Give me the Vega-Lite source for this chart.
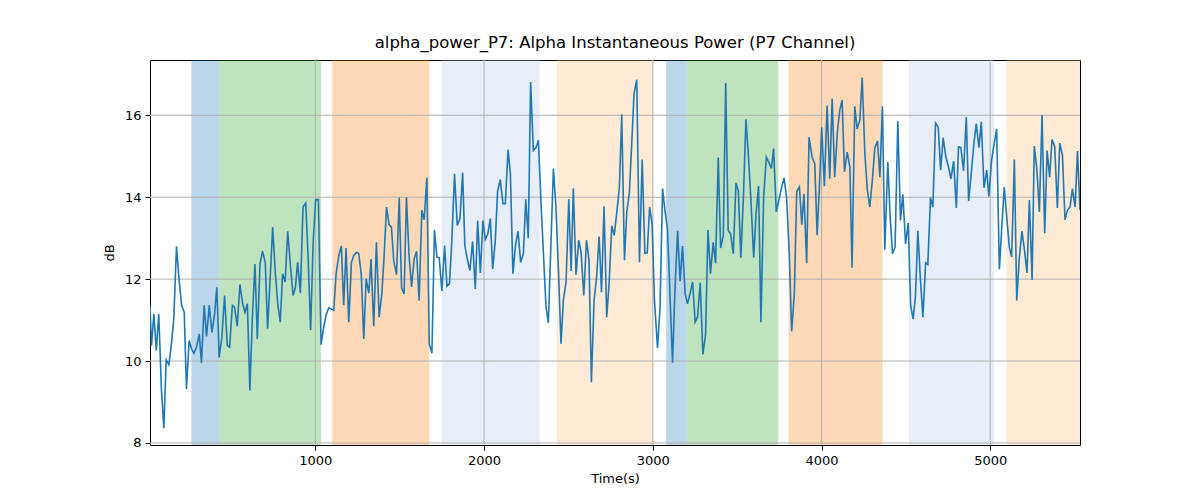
{
  "$schema": "https://vega.github.io/schema/vega-lite/v6.json",
  "width": 930,
  "height": 385,
  "autosize": {"type": "none"},
  "padding": {"left": 150, "top": 60, "right": 120, "bottom": 55},
  "background": "white",
  "config": {
    "font": "DejaVu Sans",
    "view": {"stroke": "black", "strokeWidth": 1},
    "axis": {
      "labelFont": "DejaVu Sans",
      "titleFont": "DejaVu Sans",
      "labelFontSize": 13,
      "titleFontSize": 13,
      "titleFontWeight": "normal",
      "labelColor": "black",
      "titleColor": "black",
      "tickColor": "black",
      "tickSize": 5,
      "labelPadding": 4,
      "domain": false,
      "grid": false
    },
    "title": {"font": "DejaVu Sans", "fontSize": 16.5, "fontWeight": "normal", "color": "black", "offset": 8}
  },
  "title": "alpha_power_P7: Alpha Instantaneous Power (P7 Channel)",
  "datasets": {
    "spans": [
      {"start": 265, "end": 431, "kind": "a"},
      {"start": 431, "end": 1033, "kind": "b"},
      {"start": 1100, "end": 1676, "kind": "c"},
      {"start": 1748, "end": 2330, "kind": "d"},
      {"start": 2431, "end": 3005, "kind": "e"},
      {"start": 3079, "end": 3201, "kind": "a"},
      {"start": 3201, "end": 3744, "kind": "b"},
      {"start": 3805, "end": 4361, "kind": "c"},
      {"start": 4518, "end": 5023, "kind": "d"},
      {"start": 5097, "end": 5532, "kind": "e"}
    ],
    "xgrid": [{"gx": 1000}, {"gx": 2000}, {"gx": 3000}, {"gx": 4000}, {"gx": 5000}],
    "ygrid": [{"gy": 8}, {"gy": 10}, {"gy": 12}, {"gy": 14}, {"gy": 16}],
    "signal": [
      {"t": 20, "v": 11.35}, {"t": 29, "v": 10.38}, {"t": 43, "v": 11.15}, {"t": 57, "v": 10.26}, {"t": 72, "v": 11.15},
      {"t": 88, "v": 9.28}, {"t": 102, "v": 8.36}, {"t": 116, "v": 10.03}, {"t": 132, "v": 9.91}, {"t": 147, "v": 10.42},
      {"t": 161, "v": 11.03}, {"t": 177, "v": 12.8}, {"t": 191, "v": 12.05}, {"t": 207, "v": 11.36}, {"t": 223, "v": 11.19},
      {"t": 236, "v": 9.32}, {"t": 252, "v": 10.5}, {"t": 266, "v": 10.3}, {"t": 280, "v": 10.19}, {"t": 296, "v": 10.34},
      {"t": 312, "v": 10.66}, {"t": 325, "v": 9.95}, {"t": 341, "v": 11.36}, {"t": 355, "v": 10.6}, {"t": 371, "v": 11.36},
      {"t": 387, "v": 10.7}, {"t": 403, "v": 11.15}, {"t": 416, "v": 11.8}, {"t": 430, "v": 10.09}, {"t": 446, "v": 10.58},
      {"t": 462, "v": 11.6}, {"t": 478, "v": 10.38}, {"t": 492, "v": 10.34}, {"t": 508, "v": 11.36}, {"t": 521, "v": 11.32},
      {"t": 537, "v": 10.85}, {"t": 553, "v": 11.87}, {"t": 569, "v": 11.4}, {"t": 583, "v": 11.19}, {"t": 597, "v": 11.4},
      {"t": 612, "v": 9.28}, {"t": 626, "v": 10.99}, {"t": 642, "v": 12.37}, {"t": 656, "v": 10.54}, {"t": 672, "v": 12.37},
      {"t": 687, "v": 12.68}, {"t": 703, "v": 12.41}, {"t": 717, "v": 10.79}, {"t": 732, "v": 12.0}, {"t": 747, "v": 13.27},
      {"t": 762, "v": 12.2}, {"t": 777, "v": 11.4}, {"t": 792, "v": 10.95}, {"t": 806, "v": 12.13}, {"t": 821, "v": 11.93},
      {"t": 836, "v": 13.17}, {"t": 852, "v": 12.35}, {"t": 868, "v": 11.6}, {"t": 882, "v": 11.8}, {"t": 895, "v": 12.41},
      {"t": 911, "v": 11.66}, {"t": 927, "v": 13.76}, {"t": 943, "v": 13.86}, {"t": 957, "v": 12.55}, {"t": 972, "v": 10.76},
      {"t": 987, "v": 12.9}, {"t": 1002, "v": 13.94}, {"t": 1018, "v": 13.94}, {"t": 1034, "v": 10.4}, {"t": 1048, "v": 10.79},
      {"t": 1063, "v": 11.11}, {"t": 1079, "v": 11.3}, {"t": 1094, "v": 11.27}, {"t": 1109, "v": 11.24}, {"t": 1123, "v": 12.13},
      {"t": 1139, "v": 12.58}, {"t": 1154, "v": 12.81}, {"t": 1168, "v": 11.36}, {"t": 1182, "v": 12.76}, {"t": 1198, "v": 10.95},
      {"t": 1214, "v": 12.41}, {"t": 1228, "v": 12.58}, {"t": 1243, "v": 12.65}, {"t": 1257, "v": 12.63}, {"t": 1272, "v": 12.13},
      {"t": 1287, "v": 10.54}, {"t": 1301, "v": 12.01}, {"t": 1317, "v": 11.66}, {"t": 1330, "v": 12.49}, {"t": 1346, "v": 10.85},
      {"t": 1362, "v": 12.9}, {"t": 1378, "v": 11.07}, {"t": 1394, "v": 11.64}, {"t": 1406, "v": 12.45}, {"t": 1422, "v": 13.76},
      {"t": 1437, "v": 13.33}, {"t": 1451, "v": 13.27}, {"t": 1465, "v": 12.43}, {"t": 1481, "v": 12.11}, {"t": 1497, "v": 13.99},
      {"t": 1511, "v": 11.79}, {"t": 1526, "v": 11.64}, {"t": 1540, "v": 14.0}, {"t": 1555, "v": 12.6}, {"t": 1570, "v": 11.81},
      {"t": 1586, "v": 12.5}, {"t": 1600, "v": 12.68}, {"t": 1615, "v": 11.47}, {"t": 1631, "v": 13.68}, {"t": 1645, "v": 13.45},
      {"t": 1661, "v": 14.48}, {"t": 1675, "v": 10.42}, {"t": 1691, "v": 10.19}, {"t": 1706, "v": 13.2}, {"t": 1720, "v": 12.54},
      {"t": 1734, "v": 12.52}, {"t": 1750, "v": 11.71}, {"t": 1766, "v": 12.82}, {"t": 1780, "v": 11.83}, {"t": 1795, "v": 11.89},
      {"t": 1808, "v": 12.85}, {"t": 1825, "v": 14.57}, {"t": 1841, "v": 13.31}, {"t": 1857, "v": 13.47}, {"t": 1873, "v": 14.6},
      {"t": 1886, "v": 12.82}, {"t": 1902, "v": 12.46}, {"t": 1916, "v": 12.21}, {"t": 1932, "v": 12.92}, {"t": 1948, "v": 11.76},
      {"t": 1962, "v": 13.43}, {"t": 1978, "v": 12.15}, {"t": 1993, "v": 13.43}, {"t": 2007, "v": 12.97}, {"t": 2022, "v": 13.1},
      {"t": 2037, "v": 13.48}, {"t": 2051, "v": 12.25}, {"t": 2066, "v": 12.9}, {"t": 2080, "v": 14.14}, {"t": 2096, "v": 14.43},
      {"t": 2112, "v": 13.84}, {"t": 2126, "v": 13.84}, {"t": 2142, "v": 15.16}, {"t": 2156, "v": 14.57}, {"t": 2171, "v": 12.13},
      {"t": 2186, "v": 12.82}, {"t": 2201, "v": 13.17}, {"t": 2217, "v": 12.41}, {"t": 2233, "v": 12.62}, {"t": 2247, "v": 13.95},
      {"t": 2262, "v": 13.0}, {"t": 2276, "v": 16.81}, {"t": 2292, "v": 15.14}, {"t": 2308, "v": 15.21}, {"t": 2322, "v": 15.39},
      {"t": 2337, "v": 13.9}, {"t": 2351, "v": 12.7}, {"t": 2367, "v": 11.32}, {"t": 2381, "v": 10.93}, {"t": 2397, "v": 12.95},
      {"t": 2411, "v": 14.7}, {"t": 2426, "v": 13.76}, {"t": 2441, "v": 12.2}, {"t": 2456, "v": 10.42}, {"t": 2470, "v": 11.48},
      {"t": 2486, "v": 11.93}, {"t": 2502, "v": 13.95}, {"t": 2516, "v": 12.2}, {"t": 2529, "v": 14.22}, {"t": 2545, "v": 12.11},
      {"t": 2561, "v": 12.95}, {"t": 2575, "v": 12.66}, {"t": 2591, "v": 11.6}, {"t": 2607, "v": 12.95}, {"t": 2622, "v": 12.46},
      {"t": 2636, "v": 9.48}, {"t": 2652, "v": 11.48}, {"t": 2666, "v": 12.0}, {"t": 2682, "v": 13.04}, {"t": 2696, "v": 11.68},
      {"t": 2711, "v": 13.78}, {"t": 2727, "v": 11.07}, {"t": 2741, "v": 11.9}, {"t": 2757, "v": 13.3}, {"t": 2771, "v": 13.07},
      {"t": 2787, "v": 13.64}, {"t": 2802, "v": 14.25}, {"t": 2816, "v": 16.02}, {"t": 2832, "v": 12.46}, {"t": 2846, "v": 13.64},
      {"t": 2861, "v": 14.1}, {"t": 2875, "v": 15.3}, {"t": 2889, "v": 16.53}, {"t": 2905, "v": 16.87}, {"t": 2921, "v": 12.41},
      {"t": 2937, "v": 14.92}, {"t": 2953, "v": 12.63}, {"t": 2967, "v": 12.64}, {"t": 2981, "v": 13.76}, {"t": 2996, "v": 13.35},
      {"t": 3010, "v": 11.48}, {"t": 3028, "v": 10.32}, {"t": 3043, "v": 11.3}, {"t": 3058, "v": 14.21}, {"t": 3071, "v": 13.71},
      {"t": 3087, "v": 13.22}, {"t": 3102, "v": 11.6}, {"t": 3117, "v": 9.96}, {"t": 3132, "v": 11.8}, {"t": 3147, "v": 13.18},
      {"t": 3162, "v": 11.95}, {"t": 3176, "v": 12.81}, {"t": 3192, "v": 11.64}, {"t": 3206, "v": 11.4}, {"t": 3221, "v": 11.65},
      {"t": 3236, "v": 11.93}, {"t": 3251, "v": 10.95}, {"t": 3265, "v": 11.07}, {"t": 3281, "v": 11.91}, {"t": 3297, "v": 10.16},
      {"t": 3313, "v": 10.66}, {"t": 3327, "v": 13.2}, {"t": 3342, "v": 12.13}, {"t": 3358, "v": 12.9}, {"t": 3372, "v": 12.39},
      {"t": 3388, "v": 14.97}, {"t": 3402, "v": 12.76}, {"t": 3418, "v": 13.07}, {"t": 3432, "v": 16.79}, {"t": 3447, "v": 13.18},
      {"t": 3461, "v": 13.11}, {"t": 3477, "v": 12.62}, {"t": 3493, "v": 14.35}, {"t": 3507, "v": 14.15}, {"t": 3522, "v": 12.52},
      {"t": 3537, "v": 14.0}, {"t": 3552, "v": 15.9}, {"t": 3567, "v": 15.0}, {"t": 3582, "v": 13.9}, {"t": 3598, "v": 12.52},
      {"t": 3612, "v": 13.6}, {"t": 3627, "v": 14.27}, {"t": 3641, "v": 10.95}, {"t": 3657, "v": 14.0}, {"t": 3673, "v": 14.98},
      {"t": 3687, "v": 14.86}, {"t": 3703, "v": 14.7}, {"t": 3716, "v": 15.19}, {"t": 3732, "v": 13.64}, {"t": 3747, "v": 13.92},
      {"t": 3762, "v": 14.21}, {"t": 3778, "v": 14.47}, {"t": 3793, "v": 14.0}, {"t": 3809, "v": 12.62}, {"t": 3823, "v": 10.73},
      {"t": 3839, "v": 11.64}, {"t": 3853, "v": 14.14}, {"t": 3869, "v": 14.25}, {"t": 3883, "v": 13.33}, {"t": 3896, "v": 14.08},
      {"t": 3912, "v": 12.39}, {"t": 3926, "v": 15.47}, {"t": 3944, "v": 14.98}, {"t": 3960, "v": 14.82}, {"t": 3974, "v": 13.07},
      {"t": 3988, "v": 14.3}, {"t": 4001, "v": 15.71}, {"t": 4017, "v": 14.27}, {"t": 4033, "v": 16.24}, {"t": 4049, "v": 14.45},
      {"t": 4063, "v": 16.41}, {"t": 4078, "v": 14.49}, {"t": 4094, "v": 15.59}, {"t": 4108, "v": 16.12}, {"t": 4122, "v": 16.37},
      {"t": 4136, "v": 14.62}, {"t": 4152, "v": 15.1}, {"t": 4168, "v": 14.74}, {"t": 4181, "v": 12.28}, {"t": 4197, "v": 16.22},
      {"t": 4211, "v": 15.67}, {"t": 4227, "v": 15.88}, {"t": 4241, "v": 16.92}, {"t": 4257, "v": 15.06}, {"t": 4271, "v": 14.2},
      {"t": 4286, "v": 13.76}, {"t": 4301, "v": 14.4}, {"t": 4316, "v": 15.21}, {"t": 4332, "v": 15.37}, {"t": 4346, "v": 14.49},
      {"t": 4361, "v": 16.22}, {"t": 4375, "v": 12.72}, {"t": 4393, "v": 14.86}, {"t": 4407, "v": 13.5}, {"t": 4421, "v": 12.62},
      {"t": 4436, "v": 12.78}, {"t": 4452, "v": 15.86}, {"t": 4468, "v": 13.43}, {"t": 4482, "v": 14.07}, {"t": 4498, "v": 12.86},
      {"t": 4514, "v": 13.37}, {"t": 4528, "v": 11.36}, {"t": 4543, "v": 11.03}, {"t": 4557, "v": 11.6}, {"t": 4571, "v": 13.18},
      {"t": 4586, "v": 12.0}, {"t": 4601, "v": 11.07}, {"t": 4617, "v": 12.4}, {"t": 4630, "v": 12.36}, {"t": 4646, "v": 13.99},
      {"t": 4660, "v": 13.76}, {"t": 4676, "v": 15.81}, {"t": 4692, "v": 15.71}, {"t": 4706, "v": 14.66}, {"t": 4721, "v": 15.45},
      {"t": 4737, "v": 14.98}, {"t": 4752, "v": 14.75}, {"t": 4767, "v": 14.45}, {"t": 4783, "v": 14.88}, {"t": 4799, "v": 13.74},
      {"t": 4812, "v": 15.23}, {"t": 4826, "v": 15.21}, {"t": 4842, "v": 14.64}, {"t": 4858, "v": 15.96}, {"t": 4872, "v": 13.91},
      {"t": 4888, "v": 14.6}, {"t": 4903, "v": 15.3}, {"t": 4917, "v": 15.8}, {"t": 4933, "v": 15.21}, {"t": 4947, "v": 15.84},
      {"t": 4963, "v": 14.23}, {"t": 4979, "v": 14.66}, {"t": 4992, "v": 14.02}, {"t": 5008, "v": 14.9}, {"t": 5023, "v": 15.3},
      {"t": 5038, "v": 15.67}, {"t": 5054, "v": 12.24}, {"t": 5069, "v": 13.3}, {"t": 5083, "v": 14.25}, {"t": 5098, "v": 13.5},
      {"t": 5113, "v": 12.78}, {"t": 5127, "v": 12.54}, {"t": 5143, "v": 14.92}, {"t": 5157, "v": 11.48}, {"t": 5172, "v": 12.5},
      {"t": 5188, "v": 13.17}, {"t": 5203, "v": 12.7}, {"t": 5218, "v": 12.15}, {"t": 5232, "v": 13.93}, {"t": 5248, "v": 11.98},
      {"t": 5261, "v": 15.25}, {"t": 5276, "v": 14.7}, {"t": 5291, "v": 13.64}, {"t": 5307, "v": 16.0}, {"t": 5323, "v": 13.12},
      {"t": 5337, "v": 15.14}, {"t": 5352, "v": 14.49}, {"t": 5366, "v": 15.41}, {"t": 5382, "v": 15.24}, {"t": 5398, "v": 13.74},
      {"t": 5412, "v": 15.32}, {"t": 5428, "v": 15.02}, {"t": 5443, "v": 13.45}, {"t": 5457, "v": 13.68}, {"t": 5473, "v": 13.76},
      {"t": 5487, "v": 14.21}, {"t": 5503, "v": 13.76}, {"t": 5517, "v": 15.13}, {"t": 5532, "v": 13.68}
    ]
  },
  "layer": [
    {
      "data": {"name": "spans"},
      "mark": {"type": "rect", "opacity": 0.3, "clip": true},
      "encoding": {
        "x": {"field": "start", "type": "quantitative", "scale": {"domain": [20, 5532], "nice": false, "zero": false},
              "axis": {"title": "Time(s)", "values": [1000, 2000, 3000, 4000, 5000], "format": "d", "titlePadding": 5}},
        "x2": {"field": "end"},
        "color": {"field": "kind", "type": "nominal", "legend": null,
                  "scale": {"domain": ["a", "b", "c", "d", "e"], "range": ["#1f77b4", "#2ca02c", "#ff7f0e", "#aec7e8", "#ffbb78"]}}
      }
    },
    {
      "data": {"name": "xgrid"},
      "mark": {"type": "rule", "color": "#b0b0b0", "strokeWidth": 1},
      "encoding": {"x": {"field": "gx", "type": "quantitative"}}
    },
    {
      "data": {"name": "ygrid"},
      "mark": {"type": "rule", "color": "#b0b0b0", "strokeWidth": 1},
      "encoding": {"y": {"field": "gy", "type": "quantitative"}}
    },
    {
      "data": {"name": "signal"},
      "mark": {"type": "line", "color": "#1f77b4", "strokeWidth": 1.6, "clip": true},
      "encoding": {
        "x": {"field": "t", "type": "quantitative"},
        "y": {"field": "v", "type": "quantitative", "scale": {"domain": [7.95, 17.35], "nice": false, "zero": false},
              "axis": {"title": "dB", "values": [8, 10, 12, 14, 16], "titlePadding": 8}}
      }
    }
  ]
}
